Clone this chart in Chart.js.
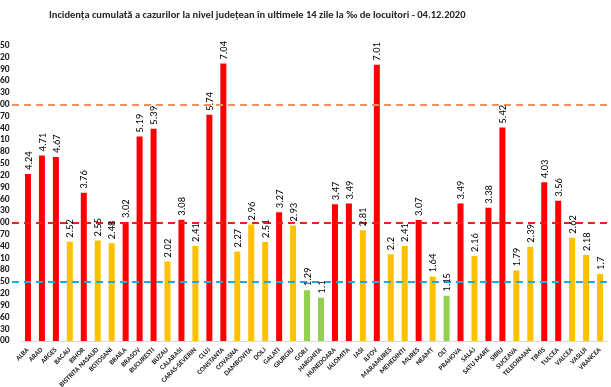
<!DOCTYPE html>
<html>
<head>
<meta charset="utf-8">
<script src="https://cdn.jsdelivr.net/npm/chart.js@4.4.1/dist/chart.umd.min.js"></script>
<style>
  html, body { margin: 0; padding: 0; background: #fff; }
  #wrap { width: 611px; height: 387px; }
</style>
</head>
<body>
<div id="wrap"><canvas id="chart" width="611" height="387"></canvas></div>
<script>
/* DATA */
const chartTitle = "Incidența cumulată a cazurilor la nivel județean în ultimele 14 zile la ‰ de locuitori - 04.12.2020";

const counties = [
    "ALBA", "ARAD", "ARGES", "BACAU", "BIHOR", "BISTRITA NASAUD", "BOTOSANI",
    "BRAILA", "BRASOV", "BUCURESTI", "BUZAU", "CALARASI", "CARAS-SEVERIN", "CLUJ",
    "CONSTANTA", "COVASNA", "DAMBOVITA", "DOLJ", "GALATI", "GIURGIU", "GORJ",
    "HARGHITA", "HUNEDOARA", "IALOMITA", "IASI", "ILFOV", "MARAMURES", "MEHEDINTI",
    "MURES", "NEAMT", "OLT", "PRAHOVA", "SALAJ", "SATU MARE", "SIBIU",
    "SUCEAVA", "TELEORMAN", "TIMIS", "TULCEA", "VALCEA", "VASLUI", "VRANCEA"
];

const incidence = [
    4.24, 4.71, 4.67, 2.52, 3.76, 2.55, 2.48,
    3.02, 5.19, 5.39, 2.02, 3.08, 2.41, 5.74,
    7.04, 2.27, 2.96, 2.51, 3.27, 2.93, 1.29,
    1.1, 3.47, 3.49, 2.81, 7.01, 2.2, 2.41,
    3.07, 1.64, 1.15, 3.49, 2.16, 3.38, 5.42,
    1.79, 2.39, 4.03, 3.56, 2.62, 2.18, 1.7
];

// y ticks as printed (labels are cut off on the left in the original)
const yTickValues = [0, 0.3, 0.6, 0.9, 1.2, 1.5, 1.8, 2.1, 2.4, 2.7, 3.0, 3.3, 3.6,
                     3.9, 4.2, 4.5, 4.8, 5.1, 5.4, 5.7, 6.0, 6.3, 6.6, 6.9, 7.2, 7.5];
const yTickLabels = ["00", "30", "60", "90", "20", "50", "80", "10", "40", "70", "00", "30", "60",
                     "90", "20", "50", "80", "10", "40", "70", "00", "30", "60", "90", "20", "50"];

// reference lines: 6‰, 3‰, 1.5‰
const thresholds = [6, 3, 1.5];


/* STYLE */
const FONT = "Carlito, Calibri, Lato, sans-serif";
const lineColors = ["#EF935A", "#F41C1C", "#1AABE2"];

function barColor(v) {
    if (v > thresholds[1]) return "#FF0000";
    if (v >= thresholds[2]) return "#FFC000";
    return "#92D050";
}


/* PLUGINS */
const titlePlugin = {
    id: "fitTitle",
    afterDraw(chart) {
        const ctx = chart.ctx;
        ctx.save();
        let size = 11;
        ctx.font = `bold ${size}px ${FONT}`;
        while (ctx.measureText(chartTitle).width > 421 && size > 7) {
            size -= 0.25;
            ctx.font = `bold ${size}px ${FONT}`;
        }
        ctx.fillStyle = "#262626";
        ctx.textBaseline = "middle";
        ctx.textAlign = "left";
        ctx.fillText(chartTitle, 49, 15);
        ctx.restore();
    }
};

const thresholdLines = {
    id: "thresholdLines",
    afterDatasetsDraw(chart) {
        const ctx = chart.ctx;
        const yScale = chart.scales.y;
        const area = chart.chartArea;
        ctx.save();
        ctx.lineWidth = 2;
        ctx.setLineDash([7, 5]);
        thresholds.forEach((t, i) => {
            const y = Math.round(yScale.getPixelForValue(t));
            ctx.strokeStyle = lineColors[i];
            ctx.beginPath();
            ctx.moveTo(area.left - 9, y);
            ctx.lineTo(chart.width, y);
            ctx.stroke();
        });
        ctx.restore();
    }
};

const valueLabels = {
    id: "valueLabels",
    afterDatasetsDraw(chart) {
        const ctx = chart.ctx;
        const meta = chart.getDatasetMeta(0);
        ctx.save();
        ctx.font = `10.5px ${FONT}`;
        ctx.fillStyle = "#000";
        ctx.textAlign = "left";
        ctx.textBaseline = "middle";
        meta.data.forEach((bar, i) => {
            ctx.save();
            ctx.translate(bar.x + 1, bar.y - 4);
            ctx.rotate(-Math.PI / 2);
            ctx.fillText(String(incidence[i]), 0, 0);
            ctx.restore();
        });
        ctx.restore();
    }
};


/* CHART */
new Chart(document.getElementById("chart"), {
    type: "bar",
    data: {
        labels: counties,
        datasets: [{
            data: incidence,
            backgroundColor: incidence.map(barColor),
            barPercentage: 0.43,
            categoryPercentage: 1
        }]
    },
    options: {
        responsive: false,
        animation: false,
        layout: { padding: { top: 45.5, left: 0, right: 0, bottom: 0 } },
        plugins: {
            legend: { display: false },
            title: { display: false },
            tooltip: { enabled: false }
        },
        scales: {
            x: {
                grid: { display: false, drawTicks: false },
                border: { display: true, color: "#D9D9D9", width: 1 },
                ticks: {
                    autoSkip: false,
                    minRotation: 45,
                    maxRotation: 45,
                    padding: 5,
                    color: "#222",
                    font: { family: FONT, size: 7, weight: "bold" }
                },
                afterFit(scale) { scale.height = 46; }
            },
            y: {
                min: 0,
                max: 7.5,
                afterBuildTicks(scale) {
                    scale.ticks = yTickValues.map(v => ({ value: v }));
                },
                grid: { display: false, drawTicks: false },
                border: { display: false },
                ticks: {
                    autoSkip: false,
                    crossAlign: "far",
                    padding: 0,
                    color: "#1A1A1A",
                    font: { family: FONT, size: 9.5, weight: "bold" },
                    callback: (v, i) => yTickLabels[i]
                },
                afterFit(scale) { scale.width = 21; }
            }
        }
    },
    plugins: [titlePlugin, thresholdLines, valueLabels]
});
</script>
</body>
</html>
